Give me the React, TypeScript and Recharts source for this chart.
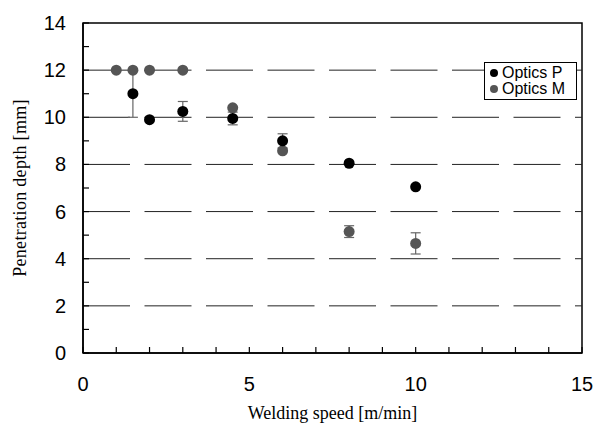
import React from 'react';
import { ScatterChart, Scatter, XAxis, YAxis, ErrorBar, ReferenceLine, ReferenceArea, Legend } from 'recharts';

// Optics P (black)
const speedP = [1.5, 2, 3, 4.5, 6, 8, 10];
const depthP = [11.0, 9.9, 10.25, 9.95, 9.0, 8.05, 7.05];
const errP = [1.0, 0, 0.42, 0.27, 0.3, 0, 0];

// Optics M (gray)
const speedM = [1, 1.5, 2, 3, 4.5, 6, 8, 10];
const depthM = [12, 12, 12, 12, 10.4, 8.58, 5.15, 4.65];
const errM = [0, 0, 0, 0, 0, 0, 0.25, 0.45];

const xTicks = [0, 1, 2, 3, 4, 5, 6, 7, 8, 9, 10, 11, 12, 13, 14, 15];
const yTicks = [0, 1, 2, 3, 4, 5, 6, 7, 8, 9, 10, 11, 12, 13, 14];
const gridValues = [2, 4, 6, 8, 10, 12];

const dataP = speedP.map((s, i) => ({ speed: s, depth: depthP[i], err: errP[i] }));
const dataM = speedM.map((s, i) => ({ speed: s, depth: depthM[i], err: errM[i] }));

const COLOR_P = '#000000';
const COLOR_M = '#555555';
const SANS = '"Liberation Sans", Arial, sans-serif';
const SERIF = '"Liberation Serif", "Times New Roman", serif';

const XTick = (props: any) => {
    const { x, y, payload } = props;
    return (
        <g>
            <line x1={x} x2={x} y1={y} y2={y - 6} stroke="#000" strokeWidth={1.2} />
            {payload.value % 5 === 0 && (
                <text x={x} y={y + 38} textAnchor="middle" fontSize={20} fontFamily={SANS} fill="#000">
                    {payload.value}
                </text>
            )}
        </g>
    );
};

const YTick = (props: any) => {
    const { x, y, payload } = props;
    return (
        <g>
            <line x1={x} x2={x + 6} y1={y} y2={y} stroke="#000" strokeWidth={1.2} />
            {payload.value % 2 === 0 && (
                <text x={x - 17} y={y + 7} textAnchor="end" fontSize={20} fontFamily={SANS} fill="#000">
                    {payload.value}
                </text>
            )}
        </g>
    );
};

const YTitle = (props: any) => {
    const { viewBox } = props;
    const cx = viewBox.x + 20;
    const cy = viewBox.y + viewBox.height / 2;
    return (
        <text x={cx} y={cy} transform={`rotate(-90 ${cx} ${cy})`} textAnchor="middle" dominantBaseline="central"
            fontSize={18} fontFamily={SERIF} fill="#000" letterSpacing={0.3}>
            Penetration depth [mm]
        </text>
    );
};

const XTitle = (props: any) => {
    const { viewBox } = props;
    const cx = viewBox.x + viewBox.width / 2;
    return (
        <text x={cx} y={viewBox.y + 66} textAnchor="middle" fontSize={18} fontFamily={SERIF} fill="#000">
            Welding speed [m/min]
        </text>
    );
};

const dot = (color: string) => (props: any) => (
    <circle cx={props.cx} cy={props.cy} r={5.5} fill={color} />
);

const LegendBox = (props: any) => {
    const order = ['Optics P', 'Optics M'];
    const items = [...(props.payload || [])].sort((a: any, b: any) => order.indexOf(a.value) - order.indexOf(b.value));
    return (
        <div style={{ border: '1px solid #000', background: '#fff', width: 80, padding: '2px 6px 2px 5px', fontFamily: SANS, fontSize: 16, lineHeight: '16px' }}>
            {items.map((it: any) => (
                <div key={it.value} style={{ display: 'flex', alignItems: 'center', whiteSpace: 'nowrap' }}>
                    <span style={{ display: 'inline-block', width: 8, height: 8, borderRadius: 4, background: it.color, marginRight: 4 }} />
                    {it.value}
                </div>
            ))}
        </div>
    );
};

export default function App() {
    return (
        <div style={{ position: 'absolute', left: 0, top: 0, width: 595, height: 429, background: '#fff' }}>
            <ScatterChart width={595} height={429} margin={{ top: 23, right: 13, left: 0, bottom: 0 }}>
                <XAxis type="number" dataKey="speed" domain={[0, 15]} ticks={xTicks} interval={0}
                    tickSize={0} tickMargin={0} tickLine={false} tick={<XTick />} height={76}
                    axisLine={{ stroke: '#000', strokeWidth: 1.5 }} allowDataOverflow
                    label={<XTitle />} />
                <YAxis type="number" dataKey="depth" domain={[0, 14]} ticks={yTicks} interval={0}
                    tickSize={0} tickMargin={0} tickLine={false} tick={<YTick />} width={83}
                    axisLine={{ stroke: '#000', strokeWidth: 1.5 }} allowDataOverflow
                    label={<YTitle />} />
                {gridValues.map((v) => (
                    <ReferenceLine key={v} y={v} stroke="#222" strokeWidth={1} strokeDasharray="47 14.5" />
                ))}
                <ReferenceArea x1={0} x2={15} y1={0} y2={14} fill="none" stroke="#000" strokeWidth={1.5} />
                <Scatter name="Optics M" data={dataM} fill={COLOR_M} shape={dot(COLOR_M)} isAnimationActive={false}>
                    <ErrorBar dataKey="err" direction="y" width={5} stroke="#666" strokeWidth={1.2} />
                </Scatter>
                <Scatter name="Optics P" data={dataP} fill={COLOR_P} shape={dot(COLOR_P)} isAnimationActive={false}>
                    <ErrorBar dataKey="err" direction="y" width={5} stroke="#666" strokeWidth={1.2} />
                </Scatter>
                <Legend layout="horizontal" verticalAlign="middle" align="center" content={<LegendBox />}
                    wrapperStyle={{ left: 484, top: 62, width: 'auto', height: 'auto' }} />
            </ScatterChart>
        </div>
    );
}
